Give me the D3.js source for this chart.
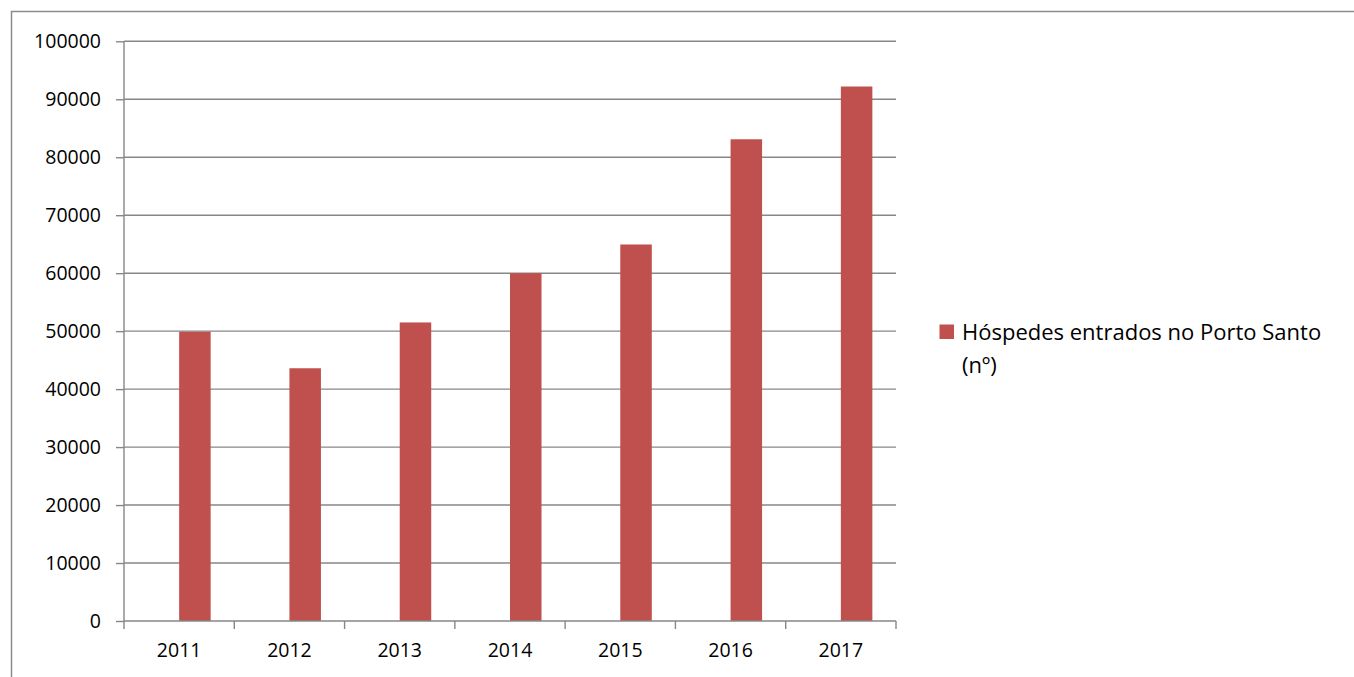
<!DOCTYPE html>
<html>
<head>
<meta charset="utf-8">
<script src="https://cdn.jsdelivr.net/npm/d3@7"></script>
<style>
  html, body { margin: 0; padding: 0; background: #fff; }
  svg { display: block; }
  text { font-family: "Open Sans", Lato, sans-serif; fill: #000; }
</style>
</head>
<body>
<svg id="chart" width="1354" height="677"></svg>
<script>
const categories = ["2011", "2012", "2013", "2014", "2015", "2016", "2017"];
const values = [49900, 43600, 51500, 60000, 64950, 83100, 92200];
const yTicks = [0, 10000, 20000, 30000, 40000, 50000, 60000, 70000, 80000, 90000, 100000];
const seriesName = ["Hóspedes entrados no Porto Santo", "(nº)"];

(function () {
const svg = d3.select("#chart");
const W = 1354, H = 677;
const pLeft = 124, pRight = 896, pTop = 41.3, pBottom = 621;
const barColor = "#C0504D";
const gridColor = "#878787";
const fontFam = "'Open Sans', Lato, sans-serif";

// Outer chart border (left and top visible)
svg.append("rect")
  .attr("x", 11.5).attr("y", 11.5)
  .attr("width", W + 20).attr("height", H + 20)
  .attr("fill", "none").attr("stroke", "#8c8c8c").attr("stroke-width", 1.5);

const x = d3.scaleBand().domain(categories).range([pLeft, pRight]).padding(0);
const y = d3.scaleLinear().domain([0, 100000]).range([pBottom, pTop]);

// Gridlines
svg.append("g").selectAll("line").data(yTicks.filter(d => d > 0)).join("line")
  .attr("x1", pLeft).attr("x2", pRight)
  .attr("y1", d => y(d)).attr("y2", d => y(d))
  .attr("stroke", gridColor).attr("stroke-width", 1.4);

// Bars: clustered layout (2 slots, 150% gap), visible series in second slot
const bw = x.bandwidth();
const barW = bw / 3.5;
svg.append("g").selectAll("rect").data(categories).join("rect")
  .attr("x", d => x(d) + bw / 2)
  .attr("width", barW)
  .attr("y", (d, i) => y(values[i]))
  .attr("height", (d, i) => pBottom - y(values[i]))
  .attr("fill", barColor);

// Y axis
const yAxis = d3.axisLeft(y).tickValues(yTicks).tickFormat(d3.format("d")).tickSize(8).tickPadding(15);
const gy = svg.append("g").attr("transform", `translate(${pLeft},0)`).call(yAxis);
gy.select(".domain").attr("stroke", gridColor).attr("stroke-width", 1.4).attr("d", `M0,${pTop}V${pBottom}`);
gy.selectAll(".tick line").attr("stroke", gridColor).attr("stroke-width", 1.4);
gy.selectAll(".tick text").attr("font-size", 19.5).attr("font-family", fontFam).attr("fill", "#000");

// X axis
const xAxis = d3.axisBottom(x).tickSize(0).tickPadding(22);
const gx = svg.append("g").attr("transform", `translate(0,${pBottom})`).call(xAxis);
gx.select(".domain").attr("stroke", gridColor).attr("stroke-width", 1.4).attr("d", `M${pLeft},0H${pRight}`);
gx.selectAll(".tick text").attr("font-size", 19.5).attr("font-family", fontFam).attr("fill", "#000");
// Boundary tick marks between categories
const bounds = categories.map(c => x(c)).concat([pRight]);
gx.append("g").selectAll("line").data(bounds).join("line")
  .attr("x1", d => d).attr("x2", d => d).attr("y1", 0).attr("y2", 8)
  .attr("stroke", gridColor).attr("stroke-width", 1.4);

// Legend
const lg = svg.append("g");
lg.append("rect").attr("x", 939.5).attr("y", 324.5).attr("width", 14.5).attr("height", 14.5).attr("fill", barColor);
lg.append("text").attr("x", 962).attr("y", 339.5).attr("font-size", 22).attr("font-family", fontFam).text(seriesName[0]);
lg.append("text").attr("x", 962).attr("y", 373).attr("font-size", 22).attr("font-family", fontFam).text(seriesName[1]);
})();
</script>
</body>
</html>
